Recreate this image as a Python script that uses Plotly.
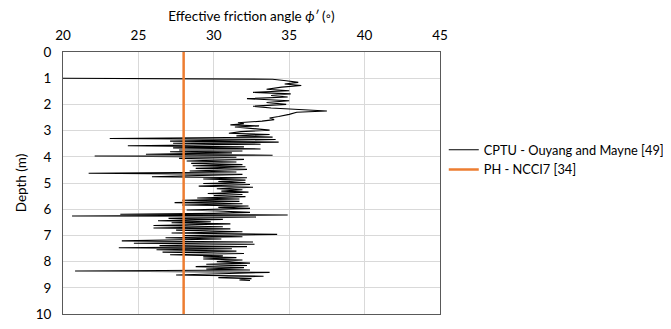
import plotly.graph_objects as go

# CPTU - Ouyang and Mayne [49]: depth (m) and effective friction angle (deg)
cptu_depth = [1.00, 1.04, 1.10, 1.16, 1.22, 1.28, 1.34, 1.42, 1.48, 1.54, 1.60, 1.66, 1.72, 1.78, 1.86,
              1.93, 2.00, 2.07, 2.14, 2.20, 2.25, 2.30, 2.38, 2.46, 2.52, 2.58, 2.64, 2.70, 2.74, 2.78,
              2.82, 2.86, 2.92, 2.98, 3.04, 3.10, 3.15, 3.20, 3.25, 3.30, 3.34, 3.40, 3.44, 3.48, 3.52,
              3.58, 3.62, 3.66, 3.70, 3.74, 3.78, 3.81, 3.85, 3.90, 3.94, 3.97, 4.02, 4.06, 4.10, 4.16,
              4.20, 4.25, 4.30, 4.34, 4.38, 4.44, 4.48, 4.54, 4.58, 4.63, 4.67, 4.72, 4.76, 4.80, 4.85,
              4.89, 4.94, 4.98, 5.02, 5.06, 5.12, 5.16, 5.22, 5.26, 5.31, 5.35, 5.40, 5.44, 5.48, 5.52,
              5.57, 5.61, 5.66, 5.70, 5.75, 5.79, 5.84, 5.88, 5.93, 5.97, 6.03, 6.07, 6.12, 6.16, 6.19,
              6.22, 6.26, 6.30, 6.35, 6.39, 6.44, 6.48, 6.52, 6.56, 6.62, 6.67, 6.72, 6.75, 6.80, 6.86,
              6.91, 6.96, 7.01, 7.05, 7.09, 7.14, 7.21, 7.25, 7.30, 7.34, 7.39, 7.43, 7.47, 7.51, 7.55,
              7.60, 7.64, 7.69, 7.74, 7.78, 7.82, 7.85, 7.90, 7.94, 8.00, 8.06, 8.10, 8.15, 8.19, 8.23,
              8.28, 8.32, 8.36, 8.41, 8.46, 8.51, 8.56, 8.61, 8.65, 8.70, 8.72]
cptu_phi = [20.0, 33.9, 34.8, 35.6, 34.7, 35.8, 34.5, 33.5, 35.0, 32.6, 35.1, 33.8, 34.9, 32.2, 35.0,
            33.5, 34.8, 32.6, 33.8, 36.0, 37.5, 35.5, 35.0, 34.3, 33.7, 34.0, 33.2, 31.6, 32.0, 31.1,
            33.0, 31.4, 32.8, 33.7, 31.8, 31.0, 33.7, 31.5, 33.9, 23.1, 34.1, 27.1, 34.3, 27.3, 33.1,
            24.3, 32.0, 27.3, 33.1, 27.7, 31.9, 27.1, 31.2, 25.5, 33.9, 22.1, 31.5, 27.7, 32.0, 28.2,
            31.5, 28.5, 31.9, 28.6, 32.1, 28.8, 32.2, 28.4, 31.5, 21.7, 31.9, 29.0, 25.9, 32.2, 29.3,
            32.1, 30.3, 32.1, 29.3, 32.4, 29.0, 32.6, 30.2, 31.9, 30.5, 32.3, 29.6, 31.9, 30.0, 32.1,
            28.9, 31.7, 27.9, 31.7, 27.4, 31.9, 27.9, 32.3, 30.3, 32.4, 28.2, 30.3, 32.4, 30.0, 23.8,
            34.9, 20.6, 32.8, 27.0, 30.6, 26.3, 29.8, 27.2, 31.1, 26.0, 30.6, 26.0, 31.1, 27.5, 31.9,
            27.2, 34.2, 28.0, 31.9, 26.8, 30.5, 23.9, 32.6, 24.7, 32.7, 26.4, 32.2, 23.7, 31.2, 26.2,
            31.5, 26.6, 32.0, 27.1, 30.6, 29.3, 31.5, 29.3, 31.9, 30.2, 32.4, 29.5, 32.2, 28.8, 32.0,
            29.5, 32.4, 20.8, 33.7, 30.5, 27.5, 33.3, 30.3, 32.5, 31.7, 32.4]

# PH - NCCI7 [34]
ph_depth = [0, 10]
ph_phi = [28, 28]

x_ticks = [20, 25, 30, 35, 40, 45]
y_ticks = list(range(0, 11))

FONT = "Lato, 'Open Sans', sans-serif"
FS = 13.5
AXIS_COLOR = "#595959"
GRID_COLOR = "#D9D9D9"

fig = go.Figure()
fig.add_trace(go.Scatter(x=cptu_phi, y=cptu_depth, mode="lines",
                         name="CPTU - Ouyang and Mayne [49]",
                         line=dict(color="black", width=1.1)))
fig.add_trace(go.Scatter(x=ph_phi, y=ph_depth, mode="lines",
                         name="PH - NCCI7 [34]",
                         line=dict(color="#ED7D31", width=2.5)))

# page body has an 8px margin, so the figure is sized to fit the 671x329 window
fig.update_layout(
    width=663, height=321,
    margin=dict(l=55, r=231, t=44, b=15, autoexpand=False),
    paper_bgcolor="white", plot_bgcolor="white",
    font=dict(family=FONT, size=FS, color="#000000"),
    showlegend=True,
    legend=dict(x=1.01, xanchor="left", y=0.588, yanchor="middle",
                font=dict(size=12.8, color="#000000"), bgcolor="rgba(0,0,0,0)",
                itemwidth=30, tracegroupgap=2),
    xaxis=dict(side="top", range=[20, 45], tickvals=x_ticks, ticktext=[str(v) for v in x_ticks],
               showgrid=True, gridcolor=GRID_COLOR, gridwidth=1,
               showline=True, linecolor=AXIS_COLOR, linewidth=1, mirror=True,
               ticks="", zeroline=False, ticklabelstandoff=6, automargin=False,
               title=dict(text="Effective friction angle <i>ϕ′</i> (◦)", standoff=2,
                          font=dict(size=FS)),
               tickfont=dict(size=FS)),
    yaxis=dict(range=[10, 0], tickvals=y_ticks, ticktext=[str(v) for v in y_ticks],
               showgrid=True, gridcolor=GRID_COLOR, gridwidth=1,
               showline=True, linecolor=AXIS_COLOR, linewidth=1, mirror=True,
               ticks="", zeroline=False, ticklabelstandoff=8, automargin=False,
               title=dict(text="Depth (m)", standoff=5, font=dict(size=FS)),
               tickfont=dict(size=FS)),
)

fig.write_html("out.html")
